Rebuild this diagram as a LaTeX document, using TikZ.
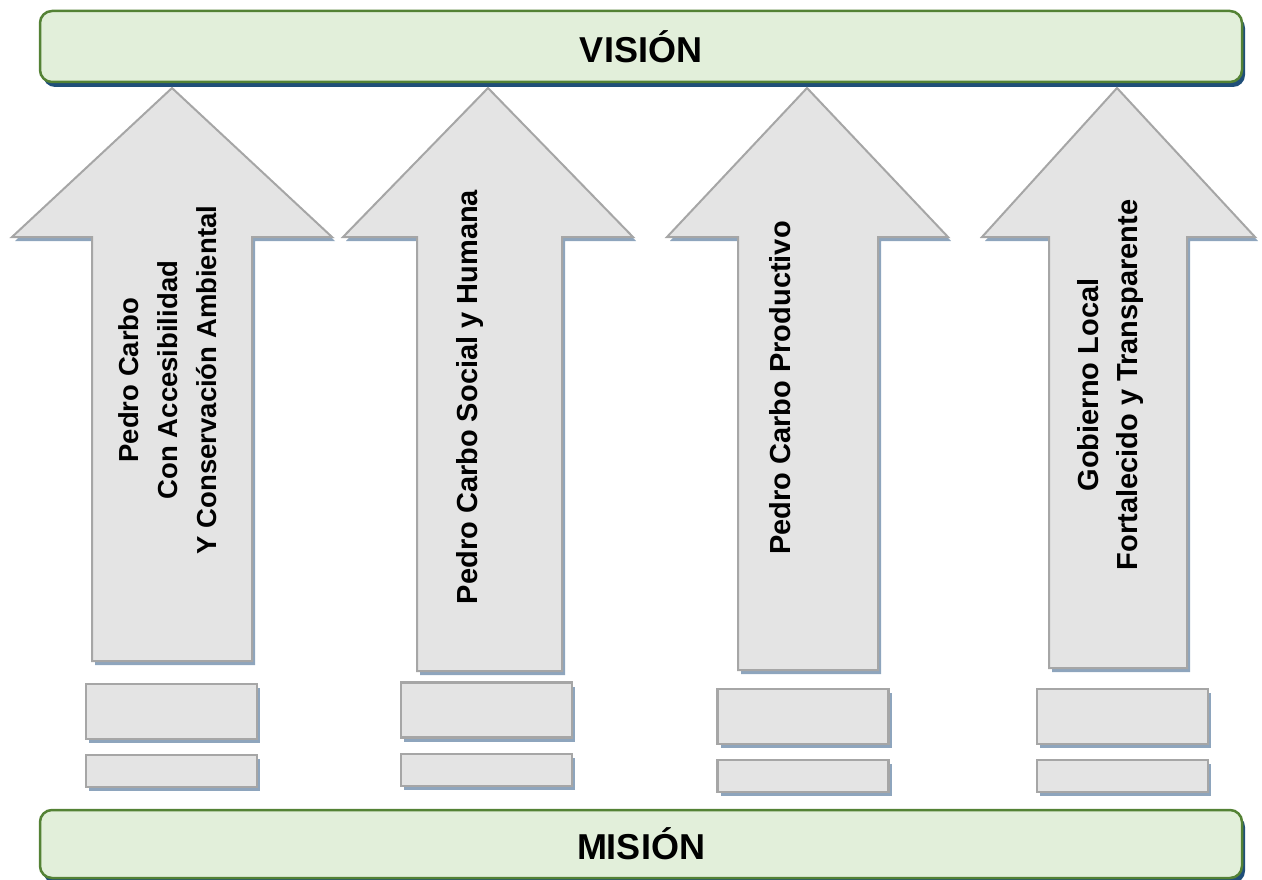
\documentclass[tikz,border=0pt]{standalone}
\usepackage{fontspec}
\setmainfont{Liberation Sans}
\usetikzlibrary{shadows}
\definecolor{bannerfill}{HTML}{E2EFDA}
\definecolor{bannerdraw}{HTML}{548235}
\definecolor{bannershadow}{HTML}{1F4E79}
\definecolor{pillarfill}{HTML}{E4E4E4}
\definecolor{pillardraw}{HTML}{A6A6A6}
\definecolor{pillarshadow}{HTML}{8EA5BD}

\begin{document}
\begin{tikzpicture}[
  x=1pt, y=-1pt,
  banner/.style={rectangle, draw=bannerdraw, fill=bannerfill, line width=2.5pt, rounded corners=12pt, minimum width=1202pt, inner sep=0pt, font=\fontsize{36}{40}\selectfont\bfseries, drop shadow={shadow xshift=3pt, shadow yshift=-5pt, fill=bannershadow, opacity=1}},
  pillar/.style={draw=pillardraw, fill=pillarfill, line width=2pt, line join=miter, drop shadow={shadow xshift=3pt, shadow yshift=-4pt, fill=pillarshadow, opacity=1}},
  pillartext/.style={rotate=90, align=center, inner sep=0pt, font=\fontsize{29}{39}\selectfont\bfseries},
  level/.style={rectangle, draw=pillardraw, fill=pillarfill, line width=2.5pt, minimum width=171pt, inner sep=0pt, drop shadow={shadow xshift=3pt, shadow yshift=-4pt, fill=pillarshadow, opacity=1}},
]
\useasboundingbox (0,0) rectangle (1262,880);

% banners
\node[banner, minimum height=71pt] (vision) at (641,46.5) {VISIÓN};
\node[banner, minimum height=68pt] (mision) at (641,844) {MISIÓN};

% arrows: tip x / head left / head right / shaft left / shaft right / bottom
\foreach \tx/\hl/\hr/\sl/\sr/\by in {172/12/332/92/252/661, 488/343/633/417/562/671, 807/667/948/738/878/670, 1117/982/1255/1049/1187/668}{
  \draw[pillar] (\tx,88) -- (\hr,237) -- (\sr,237) -- (\sr,\by) -- (\sl,\by) -- (\sl,237) -- (\hl,237) -- cycle;
}

\node[pillartext, font=\fontsize{27.5}{39}\selectfont\bfseries] (t1) at (168,380) {Pedro Carbo\\Con Accesibilidad\\Y Conservación Ambiental};
\node[pillartext] (t2) at (470,397) {Pedro Carbo Social y Humana};
\node[pillartext] (t3) at (780,388) {Pedro Carbo Productivo};
\node[pillartext] (t4) at (1110,385) {Gobierno Local\\Fortalecido y Transparente};

% steps under each arrow
\foreach \i/\x/\ya/\yb in {1/171.5/711.5/771, 2/486.5/710/770, 3/803/716.5/776, 4/1122.5/716.5/776}{
  \node[level, minimum height=55pt] (up\i) at (\x,\ya) {};
  \node[level, minimum height=32pt] (low\i) at (\x,\yb) {};
}
\end{tikzpicture}
\end{document}
